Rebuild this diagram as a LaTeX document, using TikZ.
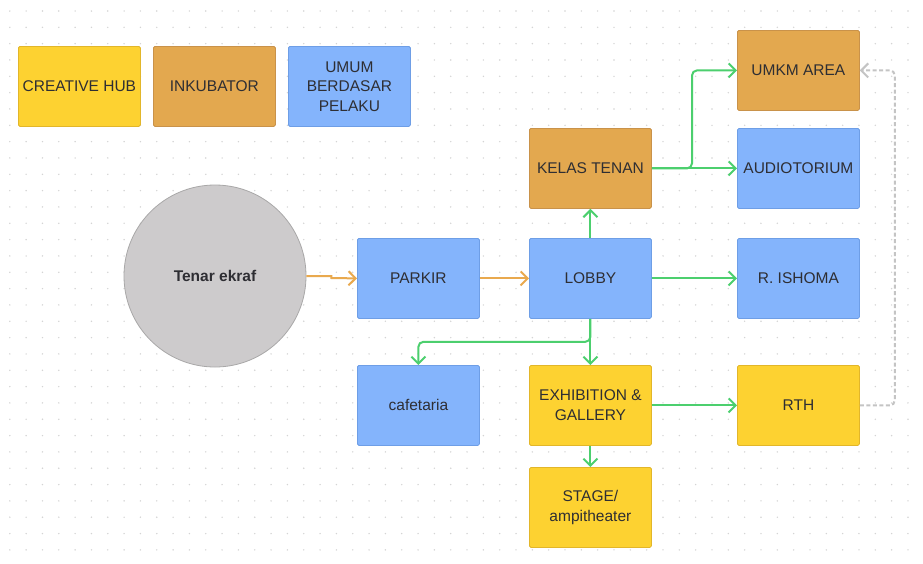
\documentclass[tikz,border=0pt]{standalone}
\usepackage{fontspec}
\setmainfont{Liberation Sans}
\usetikzlibrary{arrows.meta}
\definecolor{cyellow}{HTML}{FDD231}
\definecolor{cyellowb}{HTML}{E2B62A}
\definecolor{corange}{HTML}{E3A84F}
\definecolor{corangeb}{HTML}{C9924A}
\definecolor{cblue}{HTML}{84B4FC}
\definecolor{cblueb}{HTML}{6E9EE6}
\definecolor{ccircle}{HTML}{CDCBCC}
\definecolor{ccircleb}{HTML}{A9A8A8}
\definecolor{cgreen}{HTML}{4CCF6E}
\definecolor{corline}{HTML}{E9A94E}
\definecolor{cdash}{HTML}{C4C4C4}
\definecolor{ctext}{HTML}{2E2E33}
\definecolor{cdot}{HTML}{D4D4D4}
\begin{document}
\begin{tikzpicture}[x=1pt,y=-1pt,
  box/.style={draw, line width=0.8pt, rounded corners=1.5pt, minimum width=122pt, minimum height=80pt,
    inner sep=2pt, align=center, text=ctext, font=\fontsize{15.5}{19.5}\selectfont, anchor=north west},
  ybox/.style={box, fill=cyellow, draw=cyellowb},
  obox/.style={box, fill=corange, draw=corangeb},
  bbox/.style={box, fill=cblue, draw=cblueb},
  tip/.style={-{Straight Barb[length=7pt,width=14pt,line width=2pt]}},
  garrow/.style={draw=cgreen, line width=2pt, tip, rounded corners=5pt},
  oarrow/.style={draw=corline, line width=2pt, tip},
  darrow/.style={draw=cdash, line width=2pt, dash pattern=on 4pt off 2.5pt, tip, rounded corners=5pt}
]
\useasboundingbox (0,0) rectangle (923,563);
\fill[white] (0,0) rectangle (923,563);
% dot grid
\foreach \i in {0,...,56} {
  \foreach \j in {0,...,34} {
    \fill[cdot] ({9.8+16.33*\i},{11+16.33*\j}) circle (0.8pt);
  }
}
% legend
\node[ybox] (lhub) at (18,46) {CREATIVE HUB};
\node[obox] (linc) at (153,46) {INKUBATOR};
\node[bbox] (lumum) at (288,46) {UMUM\\BERDASAR\\PELAKU};
% circle
\node[circle, draw=ccircleb, fill=ccircle, line width=0.8pt, minimum size=182pt, text=ctext,
  font=\fontsize{15.5}{19.5}\selectfont\bfseries] (tenar) at (215,276) {Tenar ekraf};
% main nodes
\node[bbox] (parkir) at (357,238) {PARKIR};
\node[bbox] (lobby) at (529,238) {LOBBY};
\node[obox] (kelas) at (529,128) {KELAS TENAN};
\node[obox] (umkm) at (737,30) {UMKM AREA};
\node[bbox] (audio) at (737,128) {AUDIOTORIUM};
\node[bbox] (ishoma) at (737,238) {R. ISHOMA};
\node[bbox] (cafe) at (357,365) {cafetaria};
\node[ybox] (exhib) at (529,365) {EXHIBITION \&\\GALLERY};
\node[ybox] (rth) at (737,365) {RTH};
\node[ybox] (stage) at (529,467) {STAGE/\\ampitheater};
% connectors
\draw[oarrow] (tenar.east) -- ++(25,0) -- ++(0,2) -- (parkir.west);
\draw[oarrow] (parkir.east) -- (lobby.west);
\draw[garrow] (lobby.north) -- (kelas.south);
\draw[garrow] (kelas.east) -- (audio.west);
\draw[garrow] (kelas.east) -| ([xshift=-45pt]umkm.west) -- (umkm.west);
\draw[garrow] (lobby.east) -- (ishoma.west);
\draw[garrow] (lobby.south) -- (exhib.north);
\draw[garrow] (lobby.south) -- ++(0,23) -| (cafe.north);
\draw[garrow] (exhib.east) -- (rth.west);
\draw[garrow] (exhib.south) -- (stage.north);
\draw[darrow] (rth.east) -- ++(35,0) |- (umkm.east);
\end{tikzpicture}
\end{document}
